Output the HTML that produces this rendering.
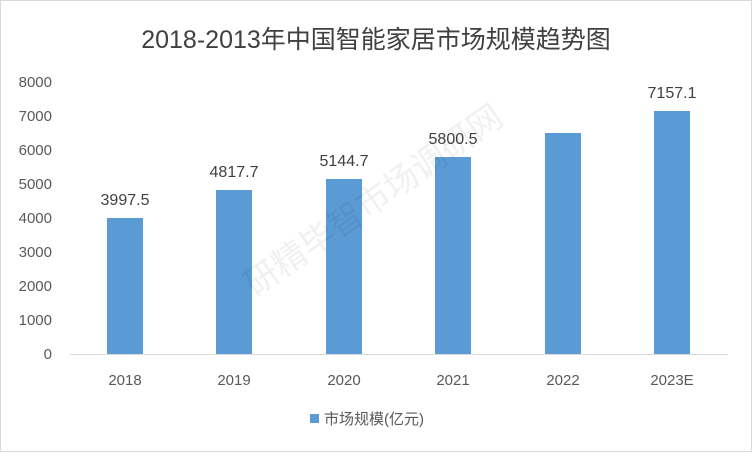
<!DOCTYPE html>
<html><head><meta charset="utf-8"><style>
body{margin:0;background:#fff}
svg text{font-family:"Liberation Sans","Noto Sans CJK SC",sans-serif}
</style></head><body>
<svg width="752" height="452" xmlns="http://www.w3.org/2000/svg">
<rect x="0.5" y="0.5" width="751" height="451" fill="#fff" stroke="#d9d9d9"/>
<text x="376" y="48" font-size="25" fill="#404040" text-anchor="middle">2018-2013年中国智能家居市场规模趋势图</text>
<g font-size="15" fill="#595959" text-anchor="end">
<text x="52" y="359">0</text><text x="52" y="325">1000</text><text x="52" y="291">2000</text>
<text x="52" y="257">3000</text><text x="52" y="223">4000</text><text x="52" y="189">5000</text>
<text x="52" y="155">6000</text><text x="52" y="121">7000</text><text x="52" y="87">8000</text>
</g>
<line x1="70" y1="354.5" x2="728" y2="354.5" stroke="#d9d9d9"/>
<g fill="#5b9bd5">
<rect x="107" y="218" width="36" height="136"/>
<rect x="216" y="190" width="36" height="164"/>
<rect x="326" y="179" width="36" height="175"/>
<rect x="435" y="157" width="36" height="197"/>
<rect x="545" y="133" width="36" height="221"/>
<rect x="654" y="111" width="36" height="243"/>
</g>
<g font-size="16" fill="#404040" text-anchor="middle">
<text x="125" y="205">3997.5</text><text x="234" y="177">4817.7</text>
<text x="344" y="166">5144.7</text><text x="453" y="144">5800.5</text>
<text x="672" y="98">7157.1</text>
</g>
<g font-size="15" fill="#595959" text-anchor="middle">
<text x="125" y="385">2018</text><text x="234" y="385">2019</text><text x="344" y="385">2020</text>
<text x="453" y="385">2021</text><text x="563" y="385">2022</text><text x="672" y="385">2023E</text>
</g>
<rect x="310" y="414" width="9" height="9" fill="#5b9bd5"/>
<text x="324" y="424" font-size="15" fill="#595959">市场规模(亿元)</text>
<text x="380" y="210" font-size="34" fill="#000" fill-opacity="0.06" text-anchor="middle" transform="rotate(-35 380 210)">研精毕智市场调研网</text>
</svg>
</body></html>
